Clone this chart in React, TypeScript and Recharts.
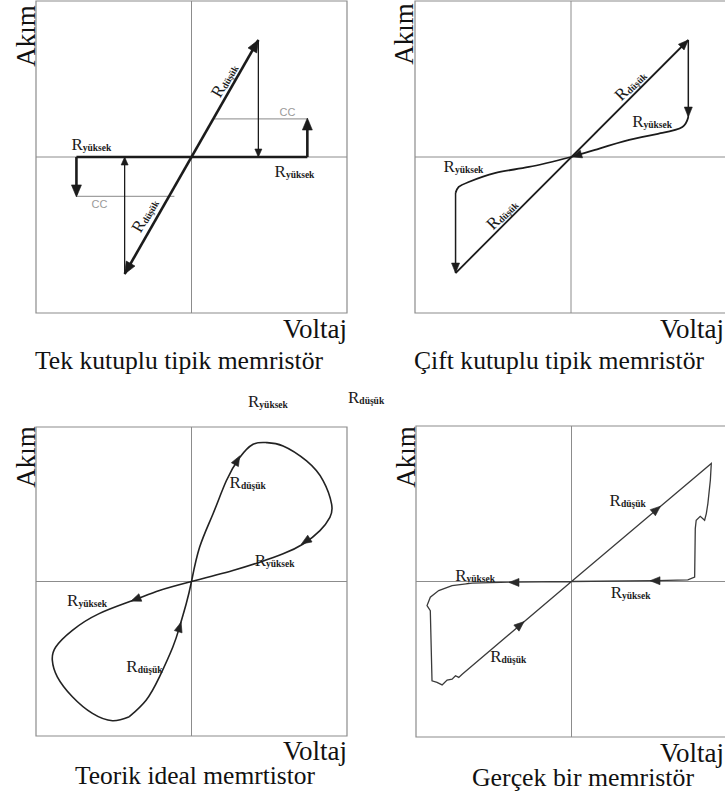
import React from 'react';
import { ComposedChart, Line, Scatter, XAxis, YAxis, ReferenceArea, ReferenceLine } from 'recharts';

type Pt = { x: number; y: number };
type Tip = { x: number; y: number; dx: number; dy: number };
type Tag = { x: number; y: number; sub: string; angle?: number };

// --- Tek kutuplu (unipolar) ---
const tekSet: Pt[] = [{ x: -4.3, y: -7.5 }, { x: 4.3, y: 7.5 }];
const tekResetRight: Pt[] = [{ x: 4.3, y: 7.5 }, { x: 4.3, y: 0 }];
const tekResetLeft: Pt[] = [{ x: -4.3, y: -7.5 }, { x: -4.3, y: 0 }];
const tekHigh: Pt[] = [{ x: -7.4, y: 0 }, { x: 7.45, y: 0 }];
const tekRiseRight: Pt[] = [{ x: 7.45, y: 0 }, { x: 7.45, y: 2.3 }];
const tekDropLeft: Pt[] = [{ x: -7.4, y: 0 }, { x: -7.4, y: -2.4 }];
const tekCcRight: Pt[] = [{ x: 1.45, y: 2.44 }, { x: 7.45, y: 2.44 }];
const tekCcLeft: Pt[] = [{ x: -7.4, y: -2.52 }, { x: -1.1, y: -2.52 }];
const tekHeavyTips: Tip[] = [
  { x: 4.3, y: 7.5, dx: 1, dy: 1.744 },
  { x: -4.3, y: -7.5, dx: -1, dy: -1.744 },
  { x: 7.45, y: 2.5, dx: 0, dy: 1 },
  { x: -7.4, y: -2.56, dx: 0, dy: -1 },
];
const tekLightTips: Tip[] = [
  { x: 4.3, y: 0, dx: 0, dy: -1 },
  { x: -4.3, y: 0, dx: 0, dy: 1 },
];
const tekTags: Tag[] = [
  { x: -7.72, y: 0.45, sub: 'yüksek' },
  { x: 5.34, y: -1.28, sub: 'yüksek' },
  { x: 2.41, y: 4.74, sub: 'düşük', angle: -60 },
  { x: -2.7, y: -3.91, sub: 'düşük', angle: -60 },
];
const tekCcTags = [
  { x: 6.17, y: 2.63, text: 'CC' },
  { x: -5.92, y: -3.27, text: 'CC' },
];

// --- Çift kutuplu (bipolar) ---
const ciftLow: Pt[] = [{ x: -7.4, y: -7.44 }, { x: 7.52, y: 7.5 }];
const ciftResetRight: Pt[] = [{ x: 7.52, y: 7.5 }, { x: 7.52, y: 2.56 }];
const ciftHighRight: Pt[] = [
  { x: 7.52, y: 2.56 }, { x: 7.14, y: 1.92 }, { x: 5.85, y: 1.54 },
  { x: 3.73, y: 1.09 }, { x: 1.54, y: 0.45 }, { x: 0, y: 0 },
];
const ciftHighLeft: Pt[] = [
  { x: 0, y: 0 }, { x: -2.7, y: -0.64 }, { x: -4.89, y: -1.03 },
  { x: -6.56, y: -1.6 }, { x: -7.2, y: -1.92 }, { x: -7.4, y: -2.3 },
];
const ciftSetLeft: Pt[] = [{ x: -7.4, y: -2.3 }, { x: -7.4, y: -7.44 }];
const ciftTips: Tip[] = [
  { x: 7.52, y: 7.5, dx: 1, dy: 1 },
  { x: 7.52, y: 2.56, dx: 0, dy: -1 },
  { x: 0.05, y: 0.01, dx: -1, dy: -0.3 },
  { x: -7.4, y: -7.44, dx: 0, dy: -1 },
];
const ciftTags: Tag[] = [
  { x: 4.05, y: 4.36, sub: 'düşük', angle: -45 },
  { x: -4.18, y: -3.91, sub: 'düşük', angle: -45 },
  { x: 3.92, y: 1.92, sub: 'yüksek' },
  { x: -8.17, y: -0.96, sub: 'yüksek' },
];

// --- Teorik ideal (pinched hysteresis loop) ---
const idealLoop: Pt[] = [
  { x: -4, y: -8.75 }, { x: -2.92, y: -7.68 }, { x: -2.06, y: -6.17 },
  { x: -1.2, y: -4.24 }, { x: -0.77, y: -2.95 }, { x: -0.34, y: -1.44 },
  { x: 0, y: 0 }, { x: 0.52, y: 2.21 }, { x: 1.38, y: 4.37 },
  { x: 2.24, y: 6.52 }, { x: 3.1, y: 8.02 }, { x: 3.96, y: 8.88 },
  { x: 4.82, y: 8.99 }, { x: 5.89, y: 8.77 }, { x: 7.4, y: 7.8 },
  { x: 8.47, y: 6.52 }, { x: 9.01, y: 5.01 }, { x: 8.9, y: 4.15 },
  { x: 8.26, y: 3.29 }, { x: 7.18, y: 2.43 }, { x: 5.89, y: 1.79 },
  { x: 4.39, y: 1.25 }, { x: 2.66, y: 0.71 }, { x: 0, y: 0 },
  { x: -2.06, y: -0.58 }, { x: -3.78, y: -1.23 }, { x: -5.94, y: -2.08 },
  { x: -7.66, y: -3.16 }, { x: -8.73, y: -4.24 }, { x: -8.95, y: -5.1 },
  { x: -8.63, y: -6.17 }, { x: -7.66, y: -7.46 }, { x: -6.37, y: -8.54 },
  { x: -5.08, y: -9.01 }, { x: -4, y: -8.75 },
];
const idealTips: Tip[] = [
  { x: 3.1, y: 8.13, dx: 0.55, dy: 1 },
  { x: 7.07, y: 2.43, dx: -1, dy: -0.64 },
  { x: -3.89, y: -1.27, dx: -1, dy: -0.39 },
  { x: -0.67, y: -2.63, dx: 0.3, dy: 1 },
];
const idealTags: Tag[] = [
  { x: 2.45, y: 6.06, sub: 'düşük' },
  { x: 4.06, y: 1.03, sub: 'yüksek' },
  { x: -8.0, y: -1.61, sub: 'yüksek' },
  { x: -4.19, y: -5.87, sub: 'düşük' },
];

// --- Gerçek (measured) ---
const realTrace: Pt[] = [
  { x: -7.03, y: -5.96 }, { x: 0, y: 0 }, { x: 8.99, y: 7.59 },
  { x: 8.93, y: 6.52 }, { x: 8.77, y: 5.01 }, { x: 8.67, y: 4.37 },
  { x: 8.56, y: 3.94 }, { x: 8.28, y: 4.19 }, { x: 8.02, y: 3.94 },
  { x: 7.96, y: 3.4 }, { x: 7.92, y: 0.28 }, { x: 7.48, y: 0.11 },
  { x: 5.44, y: 0.06 }, { x: 0, y: 0 }, { x: -3.81, y: -0.04 },
  { x: -6.39, y: -0.11 }, { x: -7.68, y: -0.26 }, { x: -8.54, y: -0.58 },
  { x: -9.08, y: -1.01 }, { x: -9.29, y: -1.55 }, { x: -9.08, y: -1.87 },
  { x: -8.97, y: -6.39 }, { x: -8.65, y: -6.49 }, { x: -8.32, y: -6.65 },
  { x: -8.0, y: -6.34 }, { x: -7.68, y: -6.28 }, { x: -7.46, y: -6.06 },
  { x: -7.25, y: -6.17 }, { x: -7.03, y: -5.96 },
];
const realTips: Tip[] = [
  { x: 5.72, y: 4.84, dx: 1, dy: 0.846 },
  { x: -3.05, y: -2.58, dx: 1, dy: 0.846 },
  { x: 5.05, y: 0.05, dx: -1, dy: 0 },
  { x: -4.02, y: -0.06, dx: -1, dy: 0 },
];
const realTags: Tag[] = [
  { x: 2.45, y: 4.84, sub: 'düşük' },
  { x: 2.52, y: -1.03, sub: 'yüksek' },
  { x: -7.48, y: 0.06, sub: 'yüksek' },
  { x: -5.23, y: -5.16, sub: 'düşük' },
];

const SERIF = 'Liberation Serif, DejaVu Serif, serif';
const INK = '#1b1b1b';
const FRAME = '#8c8c8c';
const PAD = 6;

const tipShape = (len: number, half: number, color: string) => (props: any) => {
  const { cx, cy, payload } = props;
  const deg = (Math.atan2(-payload.dy, payload.dx) * 180) / Math.PI;
  return (
    <polygon
      points={`0,0 ${-len},${-half} ${-len},${half}`}
      transform={`translate(${cx},${cy}) rotate(${deg})`}
      fill={color}
      stroke={color}
      strokeWidth={0.6}
    />
  );
};

const tagShape = (props: any) => {
  const { cx, cy, payload } = props;
  const rotated = payload.angle !== undefined;
  return (
    <text
      x={cx}
      y={cy}
      transform={rotated ? `rotate(${payload.angle} ${cx} ${cy})` : undefined}
      textAnchor={rotated ? 'middle' : 'start'}
      style={{ fontFamily: SERIF }}
      fill={INK}
    >
      <tspan fontSize={17}>R</tspan>
      <tspan fontSize={9.5} fontWeight="bold" dy={1}>{payload.sub}</tspan>
    </text>
  );
};

const ccShape = (props: any) => (
  <text x={props.cx} y={props.cy} textAnchor="middle" style={{ fontFamily: 'Liberation Sans, Arial, sans-serif' }} fontSize={11} fill="#9a9a9a">
    {props.payload.text}
  </text>
);

const trace = (key: string, pts: Pt[], width: number, color = INK, type: any = 'linear') => (
  <Line
    key={key}
    data={pts}
    dataKey="y"
    type={type}
    stroke={color}
    strokeWidth={width}
    dot={false}
    activeDot={false}
    isAnimationActive={false}
  />
);

const Panel = ({ left, top, w, h, children }: { left: number; top: number; w: number; h: number; children: React.ReactNode }) => (
  <div style={{ position: 'absolute', left: left - PAD, top: top - PAD }}>
    <ComposedChart width={w + 2 * PAD} height={h + 2 * PAD} margin={{ top: PAD, right: PAD, bottom: PAD, left: PAD }}>
      <XAxis type="number" dataKey="x" domain={[-10, 10]} hide allowDataOverflow />
      <YAxis type="number" dataKey="y" domain={[-10, 10]} hide allowDataOverflow />
      <ReferenceArea x1={-10} x2={10} y1={-10} y2={10} fill="#fff" fillOpacity={0} stroke={FRAME} strokeWidth={1.2} />
      <ReferenceLine x={0} stroke={FRAME} strokeWidth={1} />
      <ReferenceLine y={0} stroke={FRAME} strokeWidth={1} />
      {children}
    </ComposedChart>
  </div>
);

const Sub = ({ x, y, sub }: { x: number; y: number; sub: string }) => (
  <text x={x} y={y} style={{ fontFamily: SERIF }} fill={INK}>
    <tspan fontSize={17}>R</tspan>
    <tspan fontSize={9.5} fontWeight="bold" dy={1}>{sub}</tspan>
  </text>
);

export default function App() {
  return (
    <div style={{ position: 'absolute', left: 0, top: 0, width: 725, height: 800, overflow: 'hidden', background: '#fff' }}>
      <Panel left={36} top={1} w={311} h={312}>
        {[
          trace('cc-r', tekCcRight, 1.2, '#a0a0a0'),
          trace('cc-l', tekCcLeft, 1.2, '#a0a0a0'),
          trace('reset-r', tekResetRight, 1.3),
          trace('reset-l', tekResetLeft, 1.3),
          trace('high', tekHigh, 2.6),
          trace('rise-r', tekRiseRight, 2.6),
          trace('drop-l', tekDropLeft, 2.6),
          trace('set', tekSet, 2.6),
        ]}
        <Scatter data={tekHeavyTips} dataKey="y" shape={tipShape(12, 5, INK)} isAnimationActive={false} />
        <Scatter data={tekLightTips} dataKey="y" shape={tipShape(8, 3.5, INK)} isAnimationActive={false} />
        <Scatter data={tekTags} dataKey="y" shape={tagShape} isAnimationActive={false} />
        <Scatter data={tekCcTags} dataKey="y" shape={ccShape} isAnimationActive={false} />
      </Panel>

      <Panel left={415} top={1} w={312} h={312}>
        {[
          trace('low', ciftLow, 1.8),
          trace('reset-r', ciftResetRight, 1.5),
          trace('high-r', ciftHighRight, 1.8, INK, 'natural'),
          trace('high-l', ciftHighLeft, 1.8, INK, 'natural'),
          trace('set-l', ciftSetLeft, 1.5),
        ]}
        <Scatter data={ciftTips} dataKey="y" shape={tipShape(10, 4, INK)} isAnimationActive={false} />
        <Scatter data={ciftTags} dataKey="y" shape={tagShape} isAnimationActive={false} />
      </Panel>

      <Panel left={36} top={427} w={311} h={309}>
        {[trace('loop', idealLoop, 1.6, '#222', 'natural')]}
        <Scatter data={idealTips} dataKey="y" shape={tipShape(10, 4, '#222')} isAnimationActive={false} />
        <Scatter data={idealTags} dataKey="y" shape={tagShape} isAnimationActive={false} />
      </Panel>

      <Panel left={416} top={426} w={311} h={311}>
        {[trace('real', realTrace, 1.3, '#3a3a3a')]}
        <Scatter data={realTips} dataKey="y" shape={tipShape(10, 4, '#2a2a2a')} isAnimationActive={false} />
        <Scatter data={realTags} dataKey="y" shape={tagShape} isAnimationActive={false} />
      </Panel>

      <svg width={725} height={800} style={{ position: 'absolute', left: 0, top: 0, pointerEvents: 'none' }}>
        <g style={{ fontFamily: SERIF }} fill="#111">
          <text transform="translate(35,36) rotate(-90)" textAnchor="middle" fontSize={27}>Akım</text>
          <text transform="translate(413,34) rotate(-90)" textAnchor="middle" fontSize={27}>Akım</text>
          <text transform="translate(35,457) rotate(-90)" textAnchor="middle" fontSize={27}>Akım</text>
          <text transform="translate(415,457) rotate(-90)" textAnchor="middle" fontSize={27}>Akım</text>

          <text x={347} y={338} textAnchor="end" fontSize={27}>Voltaj</text>
          <text x={724} y={338} textAnchor="end" fontSize={27}>Voltaj</text>
          <text x={347} y={760} textAnchor="end" fontSize={27}>Voltaj</text>
          <text x={724} y={762} textAnchor="end" fontSize={27}>Voltaj</text>

          <text x={35} y={369} fontSize={26} textLength={288} lengthAdjust="spacingAndGlyphs">Tek kutuplu tipik memristör</text>
          <text x={414} y={369} fontSize={26} textLength={290} lengthAdjust="spacingAndGlyphs">Çift kutuplu tipik memristör</text>
          <text x={75} y={784} fontSize={26} textLength={240} lengthAdjust="spacingAndGlyphs">Teorik ideal memrtistor</text>
          <text x={472} y={786} fontSize={26} textLength={222} lengthAdjust="spacingAndGlyphs">Gerçek bir memristör</text>
        </g>
        <Sub x={248} y={407} sub="yüksek" />
        <Sub x={348} y={403} sub="düşük" />
      </svg>
    </div>
  );
}
